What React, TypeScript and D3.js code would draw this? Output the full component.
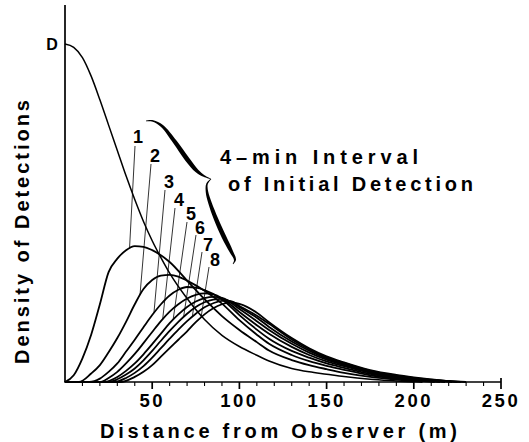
import React from 'react';
import * as d3 from 'd3';

// Detection density by distance (m). Column pairs: [distance, density], D = 1.
const detectionCurve: [number, number][] = [
  [0, 1.0], [5, 0.99], [10, 0.96], [15, 0.905], [20, 0.835], [25, 0.76], [30, 0.685], [35, 0.61],
  [40, 0.54], [45, 0.475], [50, 0.418], [55, 0.368], [60, 0.322], [70, 0.247], [80, 0.185],
  [90, 0.138], [100, 0.105], [110, 0.079], [117, 0.062], [130, 0.04], [140, 0.03],
  [150, 0.023], [160, 0.016], [175, 0.008], [190, 0.003], [200, 0],
];

const interval1: [number, number][] = [
  [0, 0], [5, 0.02], [10, 0.07], [15, 0.14], [20, 0.23], [25, 0.325], [30, 0.365], [35, 0.39],
  [40, 0.402], [45, 0.4], [50, 0.39], [60, 0.355], [70, 0.3], [80, 0.245], [90, 0.195],
  [100, 0.154], [110, 0.118], [117, 0.093], [130, 0.065], [140, 0.05], [150, 0.038],
  [160, 0.027], [175, 0.015], [190, 0.007], [205, 0],
];
const interval2: [number, number][] = [
  [0, 0], [8, 0], [15, 0.025], [20, 0.05], [25, 0.088], [30, 0.13], [35, 0.178], [40, 0.23],
  [45, 0.275], [50, 0.302], [55, 0.315], [60, 0.317], [65, 0.312], [70, 0.3], [80, 0.27],
  [90, 0.232], [100, 0.183], [110, 0.14], [117, 0.113], [130, 0.08], [140, 0.062],
  [150, 0.048], [160, 0.036], [175, 0.02], [190, 0.01], [200, 0.005], [212, 0],
];
const interval3: [number, number][] = [
  [0, 0], [14, 0], [20, 0.01], [25, 0.03], [30, 0.055], [35, 0.09], [40, 0.125], [45, 0.162],
  [50, 0.198], [55, 0.23], [60, 0.256], [65, 0.273], [70, 0.281], [75, 0.279], [80, 0.272],
  [90, 0.245], [100, 0.198], [110, 0.155], [117, 0.128], [130, 0.092], [140, 0.072],
  [150, 0.055], [160, 0.042], [175, 0.024], [190, 0.012], [200, 0.007], [215, 0],
];
const interval4: [number, number][] = [
  [0, 0], [20, 0], [25, 0.012], [30, 0.03], [35, 0.055], [40, 0.083], [45, 0.115], [50, 0.148],
  [55, 0.18], [60, 0.208], [65, 0.23], [70, 0.247], [75, 0.258], [80, 0.262], [85, 0.259],
  [90, 0.248], [100, 0.207], [110, 0.168], [117, 0.143], [130, 0.104], [140, 0.08],
  [150, 0.061], [160, 0.047], [175, 0.027], [190, 0.014], [200, 0.008], [218, 0],
];
const interval5: [number, number][] = [
  [0, 0], [22, 0], [30, 0.015], [35, 0.033], [40, 0.055], [45, 0.082], [50, 0.112], [55, 0.143],
  [60, 0.174], [65, 0.2], [70, 0.222], [75, 0.238], [80, 0.248], [85, 0.252], [90, 0.249],
  [100, 0.216], [110, 0.18], [117, 0.154], [130, 0.113], [140, 0.087], [150, 0.066],
  [160, 0.05], [175, 0.029], [190, 0.016], [200, 0.01], [222, 0],
];
const interval6: [number, number][] = [
  [0, 0], [25, 0], [30, 0.008], [35, 0.022], [40, 0.04], [45, 0.064], [50, 0.092], [55, 0.122],
  [60, 0.151], [65, 0.178], [70, 0.202], [75, 0.222], [80, 0.236], [85, 0.244], [90, 0.246],
  [95, 0.238], [100, 0.222], [110, 0.19], [117, 0.163], [130, 0.12], [140, 0.093],
  [150, 0.07], [160, 0.053], [175, 0.031], [190, 0.018], [200, 0.011], [210, 0.006], [225, 0],
];
const interval7: [number, number][] = [
  [0, 0], [28, 0], [35, 0.012], [40, 0.027], [45, 0.047], [50, 0.072], [55, 0.1], [60, 0.128],
  [65, 0.155], [70, 0.18], [75, 0.202], [80, 0.221], [85, 0.233], [90, 0.24], [95, 0.239],
  [100, 0.225], [110, 0.196], [117, 0.172], [130, 0.126], [140, 0.097], [150, 0.073],
  [160, 0.056], [175, 0.033], [190, 0.019], [200, 0.012], [210, 0.007], [227, 0],
];
const interval8: [number, number][] = [
  [0, 0], [32, 0], [40, 0.015], [45, 0.03], [50, 0.05], [55, 0.075], [60, 0.1], [65, 0.125],
  [70, 0.15], [75, 0.177], [80, 0.2], [85, 0.218], [90, 0.23], [95, 0.236], [100, 0.231],
  [110, 0.205], [117, 0.177], [130, 0.13], [140, 0.1], [150, 0.076], [160, 0.058],
  [175, 0.035], [190, 0.021], [200, 0.014], [210, 0.008], [220, 0.003], [230, 0],
];

const intervalSeries = [interval1, interval2, interval3, interval4, interval5, interval6, interval7, interval8];
const intervalLabels = ['1', '2', '3', '4', '5', '6', '7', '8'];
// distance at which each numbered leader meets its curve
const leaderDistances = [37, 43, 51, 56, 62, 68, 73, 78];

const distanceTicks = d3.range(10, 251, 10);
const labelledTicks = [50, 100, 150, 200, 250];

const xTitle = 'Distance from Observer (m)';
const yTitle = 'Density of Detections';
const yMarker = 'D';
const noteLine1 = '4\u2013min Interval';
const noteLine2 = 'of Initial Detection';

const W = 529;
const H = 442;
const FONT = '"Liberation Sans", Arial, Helvetica, sans-serif';

const x = d3.scaleLinear().domain([0, 250]).range([65, 501]);
const y = d3.scaleLinear().domain([0, 1]).range([382, 44]);

const line = d3
  .line<[number, number]>()
  .x((d) => x(d[0]))
  .y((d) => y(d[1]))
  .curve(d3.curveMonotoneX);

function valueAt(series: [number, number][], dist: number): number {
  for (let i = 1; i < series.length; i++) {
    const [x0, y0] = series[i - 1];
    const [x1, y1] = series[i];
    if (dist >= x0 && dist <= x1) return y0 + ((y1 - y0) * (dist - x0)) / (x1 - x0);
  }
  return 0;
}

// label anchor positions (label centre, leader start) in px
const labelPos: [number, number][] = [
  [138, 137], [155, 156], [169, 182], [179, 200], [191, 214], [200, 228], [208, 245], [215, 260],
];
const leaderStart: [number, number][] = [
  [135, 146], [151, 164], [165, 190], [175, 208], [187, 222], [196, 235], [202, 252], [209, 267],
];

// curly brace: centreline points with stroke width
const braceUpper: [number, number, number][] = [
  [146, 121, 0.8], [153, 121, 1.6], [162, 126, 2.8], [175, 142, 4.2], [187, 159, 4.6],
  [197, 171, 3.4], [204, 176, 2], [211, 179, 0.7],
];
const braceLower: [number, number, number][] = [
  [211, 179, 0.7], [207, 184, 1.6], [207, 192, 2.5], [210, 203, 3.5], [216, 219, 4.4],
  [224, 237, 4.6], [231, 251, 3.6], [235, 260, 2], [233, 264, 0.7],
];

function taperedPath(pts: [number, number, number][]): string {
  const left: [number, number][] = [];
  const right: [number, number][] = [];
  pts.forEach((p, i) => {
    const a = pts[Math.max(0, i - 1)];
    const b = pts[Math.min(pts.length - 1, i + 1)];
    let dx = b[0] - a[0];
    let dy = b[1] - a[1];
    const len = Math.hypot(dx, dy) || 1;
    dx /= len;
    dy /= len;
    const h = p[2] / 2;
    left.push([p[0] - dy * h, p[1] + dx * h]);
    right.push([p[0] + dy * h, p[1] - dx * h]);
  });
  const gen = d3.line().curve(d3.curveCatmullRom);
  const a = gen(left) as string;
  const b = (gen(right.reverse()) as string).replace(/^M/, 'L');
  return a + b + 'Z';
}

export default function App() {
  return (
    <svg
      width={W}
      height={H}
      viewBox={`0 0 ${W} ${H}`}
      style={{ position: 'absolute', left: 0, top: 0, background: '#fff' }}
    >
      <rect width={W} height={H} fill="#fff" />

      {/* axes */}
      <line x1={65} y1={5} x2={65} y2={y(0)} stroke="#000" strokeWidth={1.7} />
      <line x1={64.2} y1={y(0)} x2={x(250)} y2={y(0)} stroke="#000" strokeWidth={1.7} />
      {distanceTicks.map((t) => {
        const major = labelledTicks.includes(t);
        return (
          <line
            key={t}
            x1={x(t)}
            x2={x(t)}
            y1={t === 250 ? y(0) - 4 : y(0)}
            y2={y(0) + (major ? 7 : 4)}
            stroke="#000"
            strokeWidth={major ? 1.7 : 1.1}
          />
        );
      })}
      {labelledTicks.map((t) => (
        <text
          key={t}
          x={x(t)}
          y={407}
          textAnchor="middle"
          fontFamily={FONT}
          fontWeight="bold"
          fontSize={18.5}
          letterSpacing={2.5}
        >
          {t}
        </text>
      ))}

      <text
        x={100}
        y={438}
        textLength={357}
        lengthAdjust="spacing"
        fontFamily={FONT}
        fontWeight="bold"
        fontSize={20}
      >
        {xTitle}
      </text>
      <text
        transform="translate(28.5,364) rotate(-90)"
        textLength={264}
        lengthAdjust="spacing"
        fontFamily={FONT}
        fontWeight="bold"
        fontSize={20}
      >
        {yTitle}
      </text>
      <text x={52} y={y(1)} dy="0.36em" textAnchor="middle" fontFamily={FONT} fontWeight="bold" fontSize={16}>
        {yMarker}
      </text>

      {/* curves */}
      <path d={line(detectionCurve) as string} fill="none" stroke="#000" strokeWidth={1.5} />
      {intervalSeries.map((s, i) => (
        <path key={i} d={line(s) as string} fill="none" stroke="#000" strokeWidth={1.8} />
      ))}

      {/* numbered leaders */}
      {intervalSeries.map((s, i) => {
        const d = leaderDistances[i];
        return (
          <line
            key={`l${i}`}
            x1={leaderStart[i][0]}
            y1={leaderStart[i][1]}
            x2={x(d)}
            y2={y(valueAt(s, d))}
            stroke="#000"
            strokeWidth={0.8}
          />
        );
      })}
      {intervalLabels.map((lab, i) => (
        <text
          key={`t${i}`}
          x={labelPos[i][0]}
          y={labelPos[i][1]}
          dy="0.36em"
          textAnchor="middle"
          fontFamily={FONT}
          fontWeight="bold"
          fontSize={18}
        >
          {lab}
        </text>
      ))}

      {/* brace and note */}
      <path d={taperedPath(braceUpper)} fill="#000" />
      <path d={taperedPath(braceLower)} fill="#000" />
      <text x={220} y={164} textLength={198} lengthAdjust="spacing" fontFamily={FONT} fontWeight="bold" fontSize={20}>
        {noteLine1}
      </text>
      <text x={228} y={191} textLength={245} lengthAdjust="spacing" fontFamily={FONT} fontWeight="bold" fontSize={20}>
        {noteLine2}
      </text>
    </svg>
  );
}
